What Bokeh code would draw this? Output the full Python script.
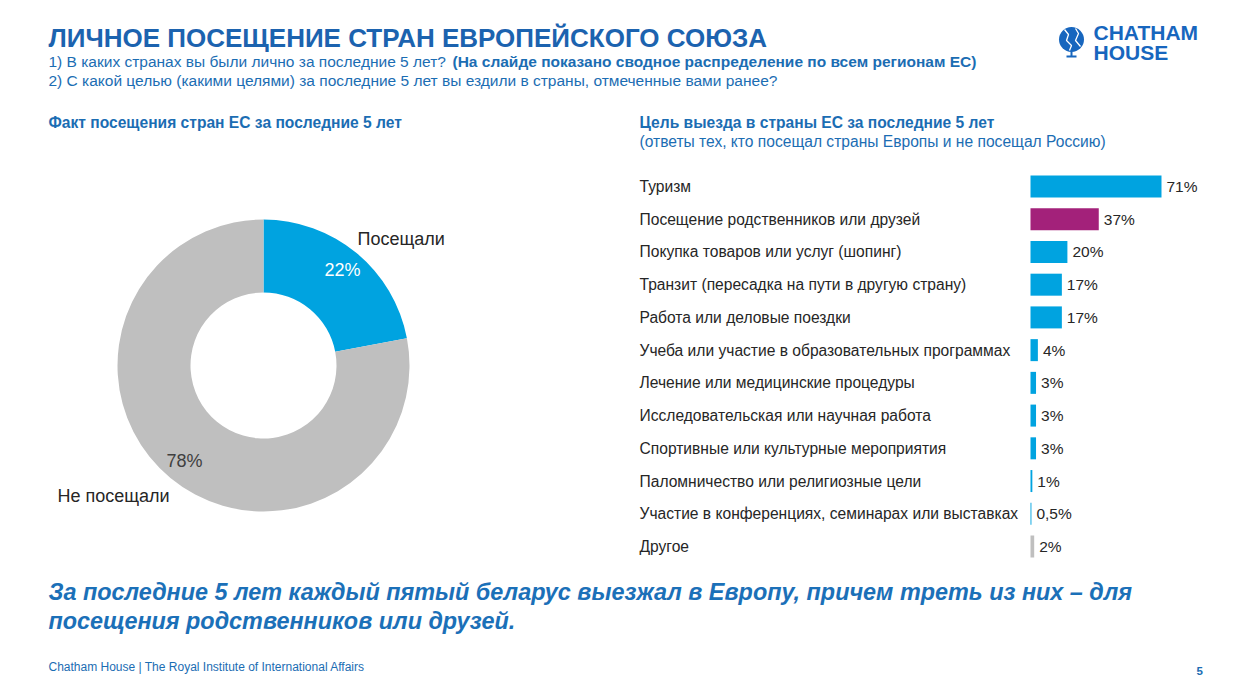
import numpy as np
from bokeh.plotting import figure
from bokeh.models import Range1d, Label, ColumnDataSource
from bokeh.layouts import column, row
from bokeh.embed import file_html
from bokeh.resources import INLINE
from bokeh.core.properties import value

# ---------------- data ----------------
donut_labels = ["Посещали", "Не посещали"]
donut_values = [22, 78]
donut_value_labels = ["22%", "78%"]
donut_colors = ["#00A3E0", "#BFBFBF"]
donut_text_colors = ["#FFFFFF", "#404040"]

purposes = [
    "Туризм",
    "Посещение родственников или друзей",
    "Покупка товаров или услуг (шопинг)",
    "Транзит (пересадка на пути в другую страну)",
    "Работа или деловые поездки",
    "Учеба или участие в образовательных программах",
    "Лечение или медицинские процедуры",
    "Исследовательская или научная работа",
    "Спортивные или культурные мероприятия",
    "Паломничество или религиозные цели",
    "Участие в конференциях, семинарах или выставках",
    "Другое",
]
purpose_values = [71, 37, 20, 17, 17, 4, 3, 3, 3, 1, 0.5, 2]
purpose_value_labels = ["71%", "37%", "20%", "17%", "17%", "4%", "3%", "3%", "3%", "1%", "0,5%", "2%"]
purpose_colors = ["#00A3E0", "#A3217A", "#00A3E0", "#00A3E0", "#00A3E0", "#00A3E0",
                  "#00A3E0", "#00A3E0", "#00A3E0", "#00A3E0", "#00A3E0", "#BFBFBF"]

TITLE = "ЛИЧНОЕ ПОСЕЩЕНИЕ СТРАН ЕВРОПЕЙСКОГО СОЮЗА"
SUB1A = "1) В каких странах вы были лично за последние 5 лет?"
SUB1B = "(На слайде показано сводное распределение по всем регионам ЕС)"
SUB2 = "2) С какой целью (какими целями) за последние 5 лет вы ездили в страны, отмеченные вами ранее?"
LEFT_HEAD = "Факт посещения стран ЕС за последние 5 лет"
RIGHT_HEAD = "Цель выезда в страны ЕС за последние 5 лет"
RIGHT_SUB = "(ответы тех, кто посещал страны Европы и не посещал Россию)"
CONCL1 = "За последние 5 лет каждый пятый беларус выезжал в Европу, причем треть из них – для"
CONCL2 = "посещения родственников или друзей."
FOOTER = "Chatham House  |  The Royal Institute of International Affairs"
PAGE_NO = "5"

FONT = "Liberation Sans"
BLUE = "#1C63AF"
BLUE2 = "#1B6DB3"
LOGO = "#1766BE"
DARK = "#262626"

W, H = 1228, 677
Y_HDR, Y_FTR = 150, 565      # split lines of the page (screen px)
X_SPLIT = 615                # donut | bars


def blank(w, h, xr, yr):
    p = figure(width=w, height=h, x_range=xr, y_range=yr, output_backend="svg",
               toolbar_location=None, x_axis_type=None, y_axis_type=None,
               min_border=0, min_border_left=0, min_border_right=0,
               min_border_top=0, min_border_bottom=0)
    p.grid.visible = False
    p.outline_line_color = None
    p.background_fill_color = "white"
    p.border_fill_color = "white"
    return p


def lab(p, x, y, text, size, color, style="normal", align="left"):
    p.add_layout(Label(x=x, y=y, text=text, text_font=FONT, text_font_size=size,
                       text_color=color, text_font_style=style, text_align=align,
                       text_baseline="middle"))


# ---------------- header (page px coords) ----------------
hdr = blank(W, Y_HDR, Range1d(0, W), Range1d(Y_HDR, 0))
lab(hdr, 48, 37, TITLE, "26px", BLUE, "bold")
lab(hdr, 48, 61, SUB1A, "15.5px", BLUE2)
lab(hdr, 452, 61, SUB1B, "15.5px", BLUE2, "bold")
lab(hdr, 48, 80, SUB2, "15.5px", BLUE2)
lab(hdr, 48, 122, LEFT_HEAD, "15.6px", BLUE2, "bold")
lab(hdr, 639, 122, RIGHT_HEAD, "15.6px", BLUE2, "bold")
lab(hdr, 639, 141, RIGHT_SUB, "15.6px", BLUE2)

# logo (decoration)
hdr.scatter(x=[1071], y=[39], size=25, marker="circle", fill_color=LOGO, line_color=None)
hdr.multi_line(xs=[[1064, 1068, 1066, 1071, 1069], [1075, 1078, 1075, 1080]],
               ys=[[29, 34, 40, 45, 50], [28, 33, 40, 46]],
               line_color="white", line_width=1.3)
hdr.multi_line(xs=[[1071, 1071], [1066, 1076]], ys=[[51, 56], [56, 56]],
               line_color=LOGO, line_width=2)
lab(hdr, 1093, 32, "CHATHAM", "21px", LOGO, "bold")
lab(hdr, 1093, 52, "HOUSE", "21px", LOGO, "bold")

# ---------------- donut ----------------
CX, CY = 263, 365
MID_H = Y_FTR - Y_HDR
don = blank(X_SPLIT, MID_H, Range1d(-CX, X_SPLIT - CX), Range1d(-(Y_FTR - CY), CY - Y_HDR))
vals = np.array(donut_values, dtype=float)
frac = vals / vals.sum()
cum_after = np.cumsum(frac)
cum_before = cum_after - frac
start = np.pi / 2 - 2 * np.pi * cum_before
end = np.pi / 2 - 2 * np.pi * cum_after
mid = (start + end) / 2
dsrc = ColumnDataSource(dict(start=start, end=end, color=donut_colors,
                             lx=124 * np.cos(mid), ly=124 * np.sin(mid),
                             txt=donut_value_labels, tcol=donut_text_colors))
don.annular_wedge(x=0, y=0, inner_radius=73, outer_radius=146, start_angle="start",
                  end_angle="end", direction="clock", fill_color="color",
                  line_color=None, source=dsrc)
don.text(x="lx", y="ly", text="txt", text_color="tcol", text_font=value(FONT),
         text_font_size="18px", text_align="center", text_baseline="middle", source=dsrc)
lab(don, 94, 127, donut_labels[0], "18px", DARK)
lab(don, -206, -130, donut_labels[1], "18px", DARK)

# ---------------- bars ----------------
PX_PER_PCT = 1.845
ROW_PX = 32.727
BAR_X0 = 1030
bar = blank(W - X_SPLIT, MID_H,
            Range1d(-(BAR_X0 - X_SPLIT) / PX_PER_PCT, (W - BAR_X0) / PX_PER_PCT),
            Range1d(11 + (Y_FTR - 546) / ROW_PX, -(186 - Y_HDR) / ROW_PX))
idx = np.arange(len(purposes))
bsrc = ColumnDataSource(dict(y=idx, v=purpose_values, c=purpose_colors,
                             name=purposes, lbl=purpose_value_labels))
bar.hbar(y="y", left=0, right="v", height=22 / ROW_PX, fill_color="c", line_color=None, source=bsrc)
bar.text(x=0, y="y", text="name", x_offset=-(BAR_X0 - 639), text_font=value(FONT),
         text_font_size="15.6px", text_color=DARK, text_align="left", text_baseline="middle",
         source=bsrc)
bar.text(x="v", y="y", text="lbl", x_offset=5, text_font=value(FONT),
         text_font_size="15.5px", text_color=DARK, text_align="left", text_baseline="middle",
         source=bsrc)

# ---------------- footer ----------------
ftr = blank(W, H - Y_FTR, Range1d(0, W), Range1d(H, Y_FTR))
lab(ftr, 48, 591, CONCL1, "23.4px", "#1B70B8", "bold italic")
lab(ftr, 48, 620, CONCL2, "23.4px", "#1B70B8", "bold italic")
lab(ftr, 48, 666, FOOTER, "12px", BLUE2)
lab(ftr, 1196, 670, PAGE_NO, "11.5px", BLUE2, "bold")

layout = column(hdr, row(don, bar, spacing=0), ftr, spacing=0)
open("out.html", "w").write(file_html(layout, INLINE))
